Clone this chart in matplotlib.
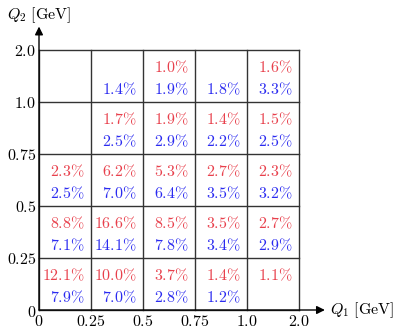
import matplotlib
matplotlib.use("Agg")
import matplotlib.pyplot as plt

plt.rcParams['mathtext.fontset'] = 'cm'
plt.rcParams['font.family'] = 'serif'
plt.rcParams['font.serif'] = ['DejaVu Serif']

# bin edges (equal-width cells on screen)
q1_labels = ['0', '0.25', '0.5', '0.75', '1.0', '2.0']
q2_labels = ['0', '0.25', '0.5', '0.75', '1.0', '2.0']

# rows from bottom (Q2 bin 0) to top; columns are Q1 bins
red_vals = [
    [12.1, 10.0, 3.7, 1.4, 1.1],
    [8.8, 16.6, 8.5, 3.5, 2.7],
    [2.3, 6.2, 5.3, 2.7, 2.3],
    [None, 1.7, 1.9, 1.4, 1.5],
    [None, None, 1.0, None, 1.6],
]
blue_vals = [
    [7.9, 7.0, 2.8, 1.2, None],
    [7.1, 14.1, 7.8, 3.4, 2.9],
    [2.5, 7.0, 6.4, 3.5, 3.2],
    [None, 2.5, 2.9, 2.2, 2.5],
    [None, 1.4, 1.9, 1.8, 3.3],
]

red_col = '#e8404c'
blue_col = '#2b2bf0'
fs = 11.5

fig = plt.figure(figsize=(3.98, 3.30), dpi=100)
ax = fig.add_axes([0.098, 0.0606, 0.653, 0.788])
n = len(q1_labels) - 1
ax.set_xlim(0, n)
ax.set_ylim(0, n)

for k in range(n + 1):
    ax.plot([k, k], [0, n], color='#333333', lw=1.0, clip_on=False)
    ax.plot([0, n], [k, k], color='#333333', lw=1.0, clip_on=False)

for r in range(n):
    for c in range(n):
        if red_vals[r][c] is not None:
            ax.text(c + 0.88, r + 0.66, r'$%.1f\%%$' % red_vals[r][c],
                    color=red_col, ha='right', va='center', fontsize=fs)
        if blue_vals[r][c] is not None:
            ax.text(c + 0.88, r + 0.24, r'$%.1f\%%$' % blue_vals[r][c],
                    color=blue_col, ha='right', va='center', fontsize=fs)

for s in ax.spines.values():
    s.set_visible(False)

ax.set_xticks(range(n + 1))
ax.set_xticklabels(['$%s$' % t for t in q1_labels], fontsize=fs)
ax.set_yticks(range(n + 1))
ax.set_yticklabels(['$%s$' % t for t in q2_labels], fontsize=fs)
ax.tick_params(axis='x', length=0, pad=2)
ax.tick_params(axis='y', length=0, pad=2)

# axis arrows
ax.annotate('', xy=(5.5, 0), xytext=(0, 0), annotation_clip=False,
            arrowprops=dict(arrowstyle='-|>', color='black', lw=1.0,
                            mutation_scale=12, shrinkA=0, shrinkB=0))
ax.annotate('', xy=(0, 5.45), xytext=(0, 0), annotation_clip=False,
            arrowprops=dict(arrowstyle='-|>', color='black', lw=1.0,
                            mutation_scale=12, shrinkA=0, shrinkB=0))
ax.text(5.6, 0, r'$Q_1\ [\mathrm{GeV}]$', ha='left', va='center', fontsize=fs,
        clip_on=False)
ax.text(0, 5.67, r'$Q_2\ [\mathrm{GeV}]$', ha='center', va='center',
        fontsize=fs, clip_on=False)

fig.savefig('out.png', dpi=100)
